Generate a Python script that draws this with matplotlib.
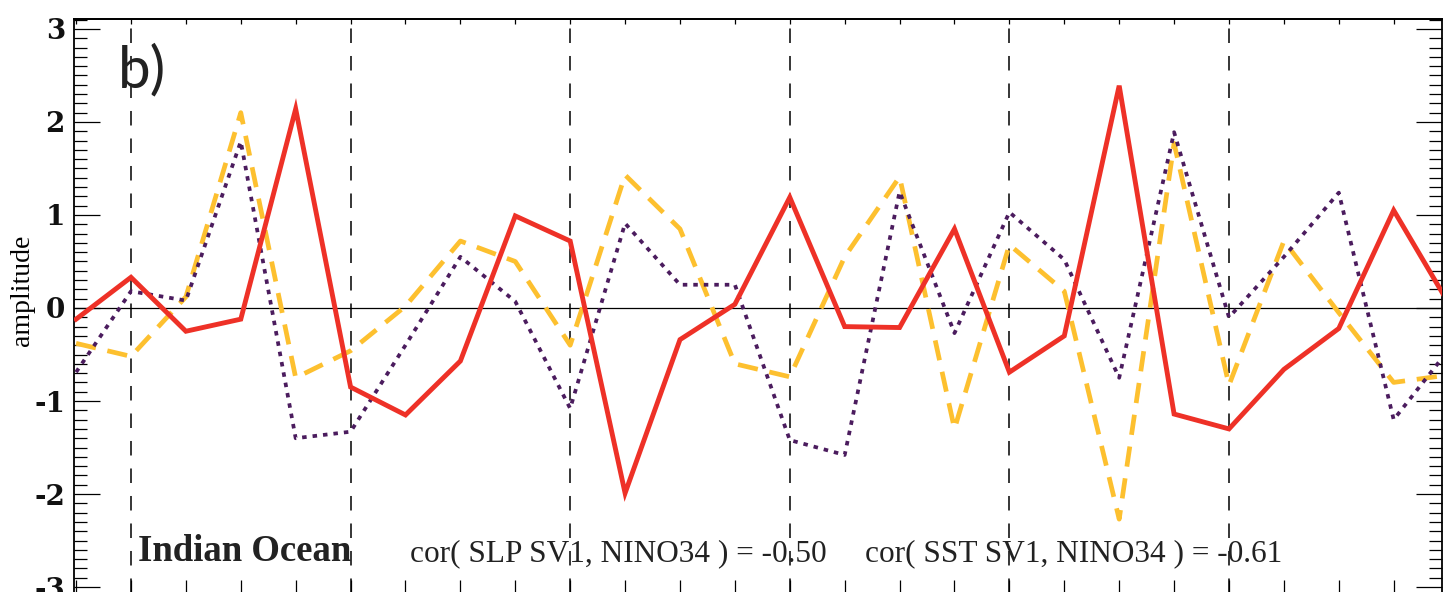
import numpy as np
import matplotlib
matplotlib.use('Agg')
import matplotlib.pyplot as plt
from matplotlib.ticker import MultipleLocator, FixedLocator, NullFormatter

# ---- data ----
x_index = list(range(26))
red_solid = [-0.12, 0.33, -0.25, -0.12, 2.14, -0.85, -1.15, -0.57, 0.99, 0.72,
             -1.99, -0.34, 0.04, 1.19, -0.20, -0.21, 0.85, -0.69, -0.30, 2.39,
             -1.14, -1.30, -0.66, -0.22, 1.05, 0.05]
yellow_dashed = [-0.38, -0.52, 0.12, 2.10, -0.75, -0.46, 0.02, 0.72, 0.50, -0.40,
                 1.43, 0.85, -0.60, -0.74, 0.55, 1.41, -1.30, 0.68, 0.18, -2.27,
                 1.77, -0.83, 0.72, -0.05, -0.80, -0.72]
purple_dotted = [-0.69, 0.18, 0.08, 1.79, -1.40, -1.33, -0.40, 0.55, 0.07, -1.08,
                 0.91, 0.25, 0.25, -1.42, -1.58, 1.25, -0.27, 1.03, 0.52, -0.75,
                 1.89, -0.10, 0.55, 1.24, -1.20, -0.45]
year_marks = [1, 5, 9, 13, 17, 21]
y_ticks = [-3, -2, -1, 0, 1, 2, 3]
y_tick_labels = ['-3', '-2', '-1', '0', '1', '2', '3']
panel_label = 'b)'
region_label = 'Indian Ocean'
cor_slp = 'cor( SLP SV1, NINO34 ) = -0.50'
cor_sst = 'cor( SST SV1, NINO34 ) = -0.61'

W, H = 1443, 592
fig = plt.figure(figsize=(W / 100, H / 100), dpi=100)

left_px, right_px, top_px, bottom_px = 74, 1442, 19, 597
ax = fig.add_axes([left_px / W, (H - bottom_px) / H,
                   (right_px - left_px) / W, (bottom_px - top_px) / H])

ax.set_xlim(-0.038, 24.88)
ax.set_ylim(-3.107, 3.107)

# reference lines
ax.axhline(0, color='black', lw=0.9, zorder=1)
for xm in year_marks:
    ax.axvline(xm, color='black', lw=1.1, linestyle=(0, (9.5, 8.5)), zorder=1)

ax.plot(x_index, yellow_dashed, color='#FDC02F', lw=3.4,
        linestyle=(0, (4.3, 2.5)), dash_capstyle='butt', zorder=2)
ax.plot(x_index, purple_dotted, color='#4B1C5E', lw=2.7,
        linestyle=(0, (1.2, 1.6)), dash_capstyle='butt', zorder=3)
ax.plot(x_index, red_solid, color='#EE3127', lw=3.5, zorder=4,
        solid_joinstyle='miter')

# axes styling
for s in ax.spines.values():
    s.set_linewidth(1.3)

ax.yaxis.set_major_locator(FixedLocator(y_ticks))
ax.set_yticklabels(y_tick_labels)
ax.yaxis.set_minor_locator(MultipleLocator(0.1))
ax.tick_params(axis='y', which='major', direction='in', length=18.7, width=0.9,
               left=True, right=True, pad=6.5)
ax.tick_params(axis='y', which='minor', direction='in', length=9.4, width=0.9,
               left=True, right=True)
for lab in ax.get_yticklabels():
    lab.set_fontfamily('DejaVu Serif')
    lab.set_fontweight('bold')
    lab.set_fontsize(20)
    lab.set_color('#111111')

ax.xaxis.set_major_locator(FixedLocator(x_index))
ax.xaxis.set_major_formatter(NullFormatter())
ax.tick_params(axis='x', which='major', direction='in', length=12, width=0.9,
               bottom=True, top=False)

sec = ax.secondary_xaxis('top')
sec.xaxis.set_major_locator(FixedLocator(x_index))
sec.xaxis.set_major_formatter(NullFormatter())
sec.tick_params(axis='x', direction='in', length=3.6, width=0.9)
sec.spines['top'].set_linewidth(1.3)

# texts
ax.text(0.76, 2.37, panel_label, family='Lato', fontsize=42,
        color='#222222', ha='left', va='baseline')
ax.text(1.13, -2.72, region_label, family='Liberation Serif', fontweight='bold',
        fontsize=26.5, color='#222222', ha='left', va='baseline')
ax.text(6.08, -2.72, cor_slp, family='Liberation Serif',
        fontsize=22.5, color='#222222', ha='left', va='baseline')
ax.text(14.37, -2.72, cor_sst, family='Liberation Serif',
        fontsize=22.5, color='#222222', ha='left', va='baseline')

fig.text(22 / W, 1 - 290 / H, 'amplitude', family='Liberation Serif',
         fontsize=20, rotation=90, ha='center', va='center', color='black')

fig.savefig('out.png', dpi=100)
